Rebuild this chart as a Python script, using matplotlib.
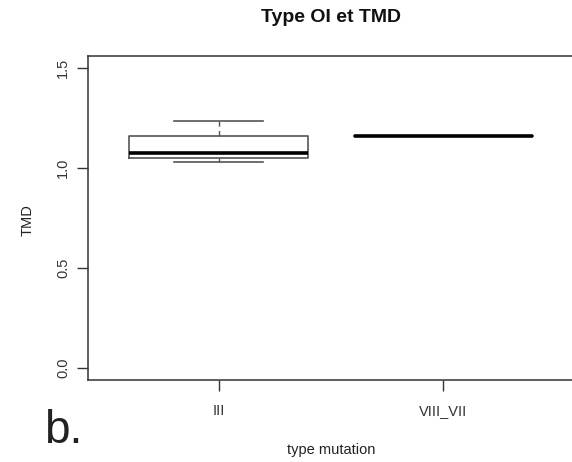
import matplotlib.pyplot as plt

plt.rcParams['font.family'] = ['Liberation Sans', 'DejaVu Sans']

# box statistics
groups = ['III', 'VIII_VII']
whislo = [1.030, 1.159]
q1 = [1.052, 1.159]
med = [1.077, 1.159]
q3 = [1.161, 1.159]
whishi = [1.236, 1.159]
yticks = [0.0, 0.5, 1.0, 1.5]

stats = []
for i, g in enumerate(groups):
    stats.append({'label': g, 'whislo': whislo[i], 'q1': q1[i], 'med': med[i],
                  'q3': q3[i], 'whishi': whishi[i], 'fliers': []})

fig = plt.figure(figsize=(5.72, 4.62), dpi=100)
W, H = 572, 462
ax = fig.add_axes([88 / W, 1 - 380 / H, (574 - 88) / W, (380 - 56) / H])

ax.bxp(stats, positions=[1, 2], widths=0.8, capwidths=0.4, patch_artist=False,
       boxprops=dict(color='#555555', linewidth=1.2),
       medianprops=dict(color='black', linewidth=2.6, solid_capstyle='butt'),
       whiskerprops=dict(color='#555555', linewidth=1.0, linestyle=(0, (4, 3))),
       capprops=dict(color='#555555', linewidth=1.2))

ax.set_xlim(0.42, 2.58)
ax.set_ylim(-0.06, 1.56)
ax.set_yticks(yticks)
ax.set_yticklabels([f'{v:.1f}' for v in yticks], rotation=90, va='center')
ax.set_xticks([1, 2])
ax.set_xticklabels(groups)
ax.tick_params(axis='both', length=8, width=1, colors='#333333',
               labelcolor='#333333', labelsize=10.5)
ax.tick_params(axis='y', pad=5)
ax.tick_params(axis='x', pad=9)
for s in ax.spines.values():
    s.set_color('#333333')
    s.set_linewidth(1.1)

fig.text(331 / W, 1 - 18 / H, 'Type OI et TMD', ha='center', va='center',
         fontsize=14, fontweight='bold', color='#111111')
fig.text(331 / W, 1 - 450 / H, 'type mutation', ha='center', va='center',
         fontsize=10.5, color='#222222')
fig.text(28 / W, 1 - 220 / H, 'TMD', ha='center', va='center', rotation=90,
         fontsize=10.5, color='#222222')
fig.text(44 / W, 1 - 443 / H, 'b.', ha='left', va='baseline',
         fontsize=33, color='#222222')

fig.savefig('out.png', dpi=100)
